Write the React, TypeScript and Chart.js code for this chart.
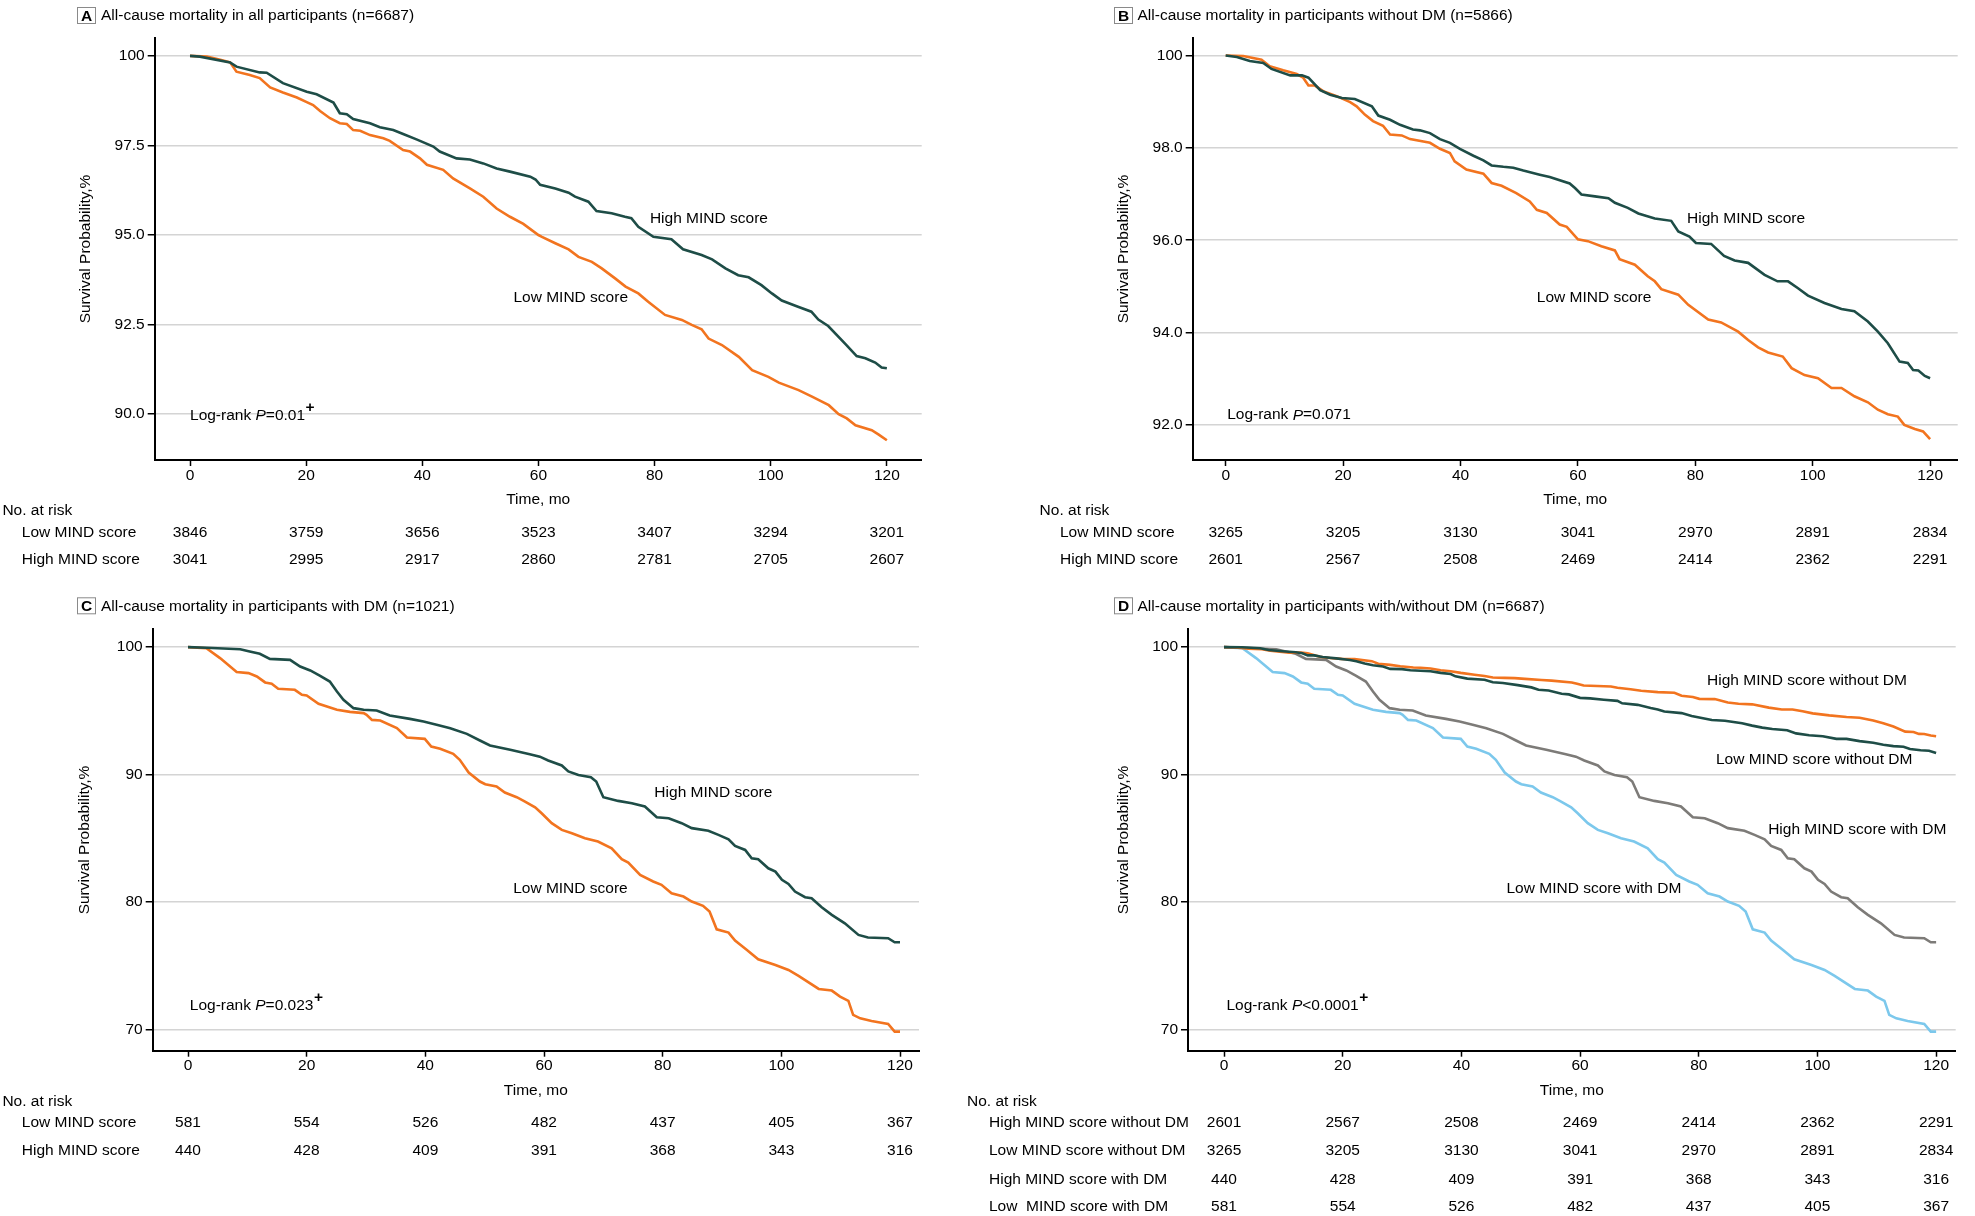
import React, { useEffect, useRef } from "react";
import { Chart, registerables } from "chart.js";

Chart.register(...registerables);

const FF = '"Liberation Sans", Arial, Helvetica, sans-serif';
const FS = 15.5;
Chart.defaults.font.family = FF;
Chart.defaults.font.size = FS;
Chart.defaults.color = "#000";

// ---------- shared ----------
const months = [0, 20, 40, 60, 80, 100, 120];

// ---------- Panel A: all participants ----------
const aHighT = [0, 1.7, 6.9, 8, 12, 13.2, 16, 20.1, 21.8, 24.7, 25.8, 27, 28.1, 31, 32.7, 35, 36.7, 39, 41.9, 43, 45.9, 48.2, 50.5, 52.8, 55.1, 58.6, 59.5, 60.3, 62.9, 65.2, 66.3, 68.6, 70, 72.6, 74.9, 76, 77.2, 79.8, 82.9, 84.9, 88.1, 89.9, 92.2, 94.4, 96.2, 98.4, 100.2, 101.9, 104.7, 107, 108.2, 109.9, 112.8, 114.8, 116.3, 118, 119.1, 120];
const aHighS = [100, 99.98, 99.82, 99.7, 99.54, 99.53, 99.24, 99.0, 98.93, 98.7, 98.4, 98.37, 98.24, 98.12, 98.01, 97.93, 97.82, 97.67, 97.47, 97.33, 97.14, 97.11, 97.0, 96.86, 96.77, 96.63, 96.55, 96.4, 96.3, 96.18, 96.07, 95.93, 95.67, 95.61, 95.51, 95.47, 95.23, 94.95, 94.88, 94.6, 94.44, 94.32, 94.07, 93.88, 93.82, 93.6, 93.37, 93.17, 93.0, 92.86, 92.64, 92.46, 91.97, 91.62, 91.56, 91.44, 91.3, 91.28];
const aLowT = [0, 2.9, 5.2, 6.9, 8, 10.3, 12, 13.8, 16, 18.4, 20.1, 21.2, 22.4, 24.1, 25.8, 27, 28.1, 29.3, 31, 33.3, 34.4, 36.7, 37.9, 39.6, 40.8, 43.6, 45.3, 48.2, 50.5, 52.8, 55.1, 57.4, 60, 60.6, 62.9, 65.2, 66.9, 69.2, 70.9, 73.2, 75, 77.2, 78.9, 81.8, 84.7, 86.4, 88.1, 89.3, 91.6, 94.5, 96.8, 99.6, 101.4, 104.8, 107.2, 110, 111.7, 113.1, 114.6, 117.4, 118.6, 120];
const aLowS = [100, 99.98, 99.89, 99.82, 99.56, 99.47, 99.38, 99.12, 98.98, 98.84, 98.71, 98.63, 98.46, 98.26, 98.12, 98.1, 97.93, 97.91, 97.79, 97.7, 97.63, 97.37, 97.33, 97.14, 96.96, 96.82, 96.58, 96.3, 96.07, 95.74, 95.51, 95.31, 95.0, 94.95, 94.77, 94.6, 94.39, 94.25, 94.07, 93.79, 93.56, 93.37, 93.14, 92.77, 92.63, 92.49, 92.37, 92.11, 91.93, 91.6, 91.23, 91.04, 90.88, 90.67, 90.48, 90.25, 90.0, 89.88, 89.69, 89.55, 89.43, 89.27];
const aRiskLow = [3846, 3759, 3656, 3523, 3407, 3294, 3201];
const aRiskHigh = [3041, 2995, 2917, 2860, 2781, 2705, 2607];
const aYTicks = [90, 92.5, 95, 97.5, 100];

// ---------- Panel B: without DM ----------
const bHighT = [0, 1.9, 4.1, 6.4, 7.8, 11, 13, 14.1, 16.1, 17.8, 19.8, 22, 24.9, 26, 28, 29.7, 31.9, 33.1, 34.8, 36.5, 38.2, 39.9, 42.2, 43.9, 45.3, 47.3, 49, 50.7, 53.5, 55.2, 58.6, 59.5, 60.6, 62.9, 65.2, 66.3, 68.5, 70.3, 73.1, 75.9, 77.1, 79, 80.1, 82.7, 84.9, 86.7, 89, 91.8, 94, 95.8, 97.5, 99.2, 102, 104.9, 107.1, 109.4, 111.1, 112.8, 114.8, 116.2, 117.1, 118, 119.1, 120];
const bHighS = [100, 99.97, 99.88, 99.84, 99.71, 99.57, 99.57, 99.52, 99.25, 99.15, 99.08, 99.06, 98.9, 98.7, 98.61, 98.5, 98.4, 98.38, 98.32, 98.19, 98.11, 97.98, 97.83, 97.73, 97.62, 97.59, 97.57, 97.51, 97.42, 97.37, 97.23, 97.13, 96.99, 96.95, 96.91, 96.81, 96.7, 96.58, 96.47, 96.42, 96.19, 96.08, 95.94, 95.92, 95.66, 95.56, 95.51, 95.25, 95.11, 95.11, 94.96, 94.8, 94.64, 94.51, 94.46, 94.24, 94.02, 93.77, 93.37, 93.34, 93.19, 93.18, 93.06, 93.01];
const bLowT = [0, 3, 6.1, 7.5, 9.8, 12.1, 13.2, 14.1, 15.2, 16.6, 18.9, 21.2, 22.3, 23.7, 25.1, 26.8, 28, 30, 31.4, 34.8, 36.5, 38.2, 39, 41, 43.9, 45.3, 47, 49.5, 51.8, 53, 54.7, 56.9, 58.1, 60, 61.7, 64, 66.3, 67.1, 69.7, 71.9, 73.1, 74.2, 77.1, 78.8, 82.2, 84.4, 87.3, 89, 90.7, 92.4, 94.9, 96.4, 98.6, 100.9, 103.2, 104.9, 107.1, 109.4, 111.1, 112.8, 114.5, 115.6, 117.4, 118.8, 120];
const bLowS = [100, 99.99, 99.91, 99.77, 99.68, 99.6, 99.52, 99.35, 99.35, 99.23, 99.12, 98.99, 98.9, 98.72, 98.58, 98.48, 98.29, 98.27, 98.19, 98.11, 97.98, 97.89, 97.71, 97.53, 97.44, 97.24, 97.18, 97.02, 96.84, 96.66, 96.59, 96.34, 96.29, 96.02, 95.98, 95.87, 95.78, 95.59, 95.47, 95.22, 95.11, 94.94, 94.82, 94.6, 94.28, 94.22, 94.02, 93.84, 93.68, 93.57, 93.48, 93.23, 93.08, 93.01, 92.8, 92.8, 92.62, 92.49, 92.33, 92.23, 92.18, 92.0, 91.91, 91.86, 91.69];
const bRiskLow = [3265, 3205, 3130, 3041, 2970, 2891, 2834];
const bRiskHigh = [2601, 2567, 2508, 2469, 2414, 2362, 2291];
const bYTicks = [92, 94, 96, 98, 100];

// ---------- Panel C: with DM ----------
const cHighT = [0, 3.1, 8.8, 10.4, 12.1, 13.8, 17.2, 18.9, 20.6, 22.2, 23.9, 25.1, 26.2, 27.9, 29.6, 31.8, 34, 37.4, 39.7, 41.9, 44.2, 47, 49.2, 50.9, 54.3, 57.6, 59.3, 60.7, 63, 64.1, 65.8, 67.9, 68.8, 70, 72.5, 74.8, 77, 79, 81, 83.2, 84.9, 87.7, 89.4, 91.1, 92.2, 93.9, 95, 96.1, 97.8, 99, 100.1, 101.2, 102.3, 104, 105.1, 106.8, 108.5, 110.7, 113, 114.6, 118, 119.1, 120];
const cHighS = [100, 99.95, 99.84, 99.66, 99.48, 99.08, 99.0, 98.48, 98.17, 97.77, 97.3, 96.51, 95.86, 95.21, 95.08, 95.03, 94.63, 94.37, 94.16, 93.9, 93.64, 93.19, 92.67, 92.28, 91.94, 91.6, 91.4, 91.1, 90.71, 90.24, 89.97, 89.79, 89.45, 88.22, 87.93, 87.75, 87.49, 86.65, 86.57, 86.18, 85.79, 85.58, 85.26, 84.92, 84.4, 84.08, 83.43, 83.35, 82.64, 82.38, 81.73, 81.41, 80.81, 80.37, 80.29, 79.58, 78.98, 78.32, 77.41, 77.2, 77.15, 76.83, 76.83];
const cLowT = [0, 3.1, 5.4, 8.2, 10.2, 11.6, 13, 14.1, 15.2, 18, 19.2, 20, 22, 25.1, 27.3, 29.6, 30.1, 31, 32.4, 35.2, 36.9, 39.9, 41, 42.5, 44.7, 45.8, 47.3, 49.2, 50.1, 52, 53.4, 55.4, 56.8, 58.5, 59.6, 61.3, 63, 64.7, 66.9, 69.1, 71.4, 73.1, 74.2, 76.2, 78.4, 79.8, 81.5, 83.5, 84.9, 86.8, 87.9, 89.1, 91.1, 92.2, 94.2, 96.1, 99, 101.2, 102.9, 106.3, 108.5, 109.9, 111.3, 112.1, 113.3, 115.2, 118, 119.1, 120];
const cLowS = [100, 99.92, 99.14, 98.04, 97.96, 97.7, 97.23, 97.12, 96.73, 96.65, 96.26, 96.2, 95.55, 95.08, 94.92, 94.82, 94.69, 94.29, 94.24, 93.64, 92.91, 92.8, 92.2, 92.02, 91.62, 91.15, 90.16, 89.45, 89.24, 89.06, 88.59, 88.22, 87.88, 87.43, 86.96, 86.18, 85.65, 85.39, 85.0, 84.74, 84.21, 83.35, 83.09, 82.12, 81.6, 81.34, 80.68, 80.42, 80.03, 79.69, 79.24, 77.85, 77.59, 76.96, 76.23, 75.5, 75.05, 74.66, 74.19, 73.17, 73.04, 72.57, 72.23, 71.13, 70.86, 70.65, 70.42, 69.82, 69.82];
const cRiskLow = [581, 554, 526, 482, 437, 405, 367];
const cRiskHigh = [440, 428, 409, 391, 368, 343, 316];
const cYTicks = [70, 80, 90, 100];

// ---------- colours ----------
const GREEN = "#1e4d47";
const ORANGE = "#f2741f";
const GRAY = "#7d7b78";
const BLUE = "#7cc8ec";

const toXY = (t: number[], s: number[]) => t.map((x, i) => ({ x, y: s[i] }));

const X_H = 50;

type Panel = any;

const panels: Panel[] = [
  {
    left: 0, top: 0, w: 960, h: 590,
    area: { l: 154.7, r: 921.7, t: 38, b: 460 },
    xMin: -6.08, xMax: 126.0, yMin: 88.72, yMax: 100.5,
    yTicks: aYTicks, yFmt: (v: number) => (v === 100 ? "100" : v.toFixed(1)),
    yTitleX: 86,
    series: [
      { t: aHighT, s: aHighS, color: GREEN },
      { t: aLowT, s: aLowS, color: ORANGE },
    ],
    decor: {
      letter: "A", box: { x: 77, y: 7, w: 18, h: 16 }, titleX: 101,
      title: "All-cause mortality in all participants (n=6687)",
      labels: [
        { t: 79.2, v: 95.45, text: "High MIND score" },
        { t: 55.7, v: 93.25, text: "Low MIND score" },
      ],
      logrank: { t: 0, v: 89.97, op: "=0.01", plus: true },
      headerX: 2.4, labelX: 21.8, headerOff: 50.5, rowOffs: [72.5, 100],
      rows: [
        { label: "Low MIND score", values: aRiskLow },
        { label: "High MIND score", values: aRiskHigh },
      ],
    },
  },
  {
    left: 960, top: 0, w: 1015, h: 590,
    area: { l: 232.7, r: 997.7, t: 38, b: 460 },
    xMin: -5.62, xMax: 124.7, yMin: 91.24, yMax: 100.38,
    yTicks: bYTicks, yFmt: (v: number) => (v === 100 ? "100" : v.toFixed(1)),
    yTitleX: 163.3,
    series: [
      { t: bHighT, s: bHighS, color: GREEN },
      { t: bLowT, s: bLowS, color: ORANGE },
    ],
    decor: {
      letter: "B", box: { x: 154, y: 7, w: 18, h: 16 }, titleX: 177.5,
      title: "All-cause mortality in participants without DM (n=5866)",
      labels: [
        { t: 78.6, v: 96.46, text: "High MIND score" },
        { t: 53.0, v: 94.76, text: "Low MIND score" },
      ],
      logrank: { t: 0.25, v: 92.21, op: "=0.071", plus: false },
      headerX: 79.6, labelX: 100, headerOff: 50.5, rowOffs: [72.5, 100],
      rows: [
        { label: "Low MIND score", values: bRiskLow },
        { label: "High MIND score", values: bRiskHigh },
      ],
    },
  },
  {
    left: 0, top: 590, w: 960, h: 626,
    area: { l: 152.7, r: 919, t: 39.3, b: 460.7 },
    xMin: -5.95, xMax: 123.2, yMin: 68.32, yMax: 101.4,
    yTicks: cYTicks, yFmt: (v: number) => String(v),
    yTitleX: 85,
    series: [
      { t: cHighT, s: cHighS, color: GREEN },
      { t: cLowT, s: cLowS, color: ORANGE },
    ],
    decor: {
      letter: "C", box: { x: 77, y: 7.3, w: 18, h: 16 }, titleX: 101,
      title: "All-cause mortality in participants with DM (n=1021)",
      labels: [
        { t: 78.6, v: 88.61, text: "High MIND score" },
        { t: 54.8, v: 81.07, text: "Low MIND score" },
      ],
      logrank: { t: 0.3, v: 71.82, op: "=0.023", plus: true },
      headerX: 2.4, labelX: 21.8, headerOff: 51, rowOffs: [72.5, 100.5],
      rows: [
        { label: "Low MIND score", values: cRiskLow },
        { label: "High MIND score", values: cRiskHigh },
      ],
    },
  },
  {
    left: 960, top: 590, w: 1015, h: 626,
    area: { l: 228, r: 995.7, t: 39.3, b: 460.7 },
    xMin: -6.07, xMax: 123.3, yMin: 68.32, yMax: 101.4,
    yTicks: cYTicks, yFmt: (v: number) => String(v),
    yTitleX: 163.3,
    series: [
      { t: bLowT, s: bLowS, color: GREEN },
      { t: bHighT, s: bHighS, color: ORANGE },
      { t: cHighT, s: cHighS, color: GRAY },
      { t: cLowT, s: cLowS, color: BLUE },
    ],
    decor: {
      letter: "D", box: { x: 154, y: 7.3, w: 18, h: 16 }, titleX: 177.5,
      title: "All-cause mortality in participants with/without DM (n=6687)",
      labels: [
        { t: 81.4, v: 97.38, text: "High MIND score without DM" },
        { t: 82.9, v: 91.2, text: "Low MIND score without DM" },
        { t: 91.7, v: 85.7, text: "High MIND score with DM" },
        { t: 47.6, v: 81.07, text: "Low MIND score with DM" },
      ],
      logrank: { t: 0.4, v: 71.85, op: "<0.0001", plus: true },
      headerX: 7, labelX: 29, headerOff: 51, rowOffs: [72.3, 100.3, 128.8, 156],
      rows: [
        { label: "High MIND score without DM", values: bRiskHigh },
        { label: "Low MIND score without DM", values: bRiskLow },
        { label: "High MIND score with DM", values: cRiskHigh },
        { label: "Low  MIND score with DM", values: cRiskLow },
      ],
    },
  },
];

const decorPlugin = {
  id: "decor",
  afterDraw(chart: any) {
    const o = chart.options.plugins.decor;
    if (!o) return;
    const ctx = chart.ctx as CanvasRenderingContext2D;
    const xs = chart.scales.x;
    const ys = chart.scales.y;
    const area = chart.chartArea;
    ctx.save();
    ctx.fillStyle = "#000";
    ctx.textBaseline = "middle";

    // panel title
    ctx.strokeStyle = "#8a8a8a";
    ctx.lineWidth = 1;
    ctx.strokeRect(o.box.x + 0.5, o.box.y + 0.5, o.box.w, o.box.h);
    ctx.font = `bold ${FS}px ${FF}`;
    ctx.textAlign = "center";
    ctx.fillText(o.letter, o.box.x + o.box.w / 2 + 0.5, o.box.y + o.box.h / 2 + 1.5);
    ctx.font = `${FS}px ${FF}`;
    ctx.textAlign = "left";
    ctx.fillText(o.title, o.titleX, o.box.y + o.box.h / 2 + 1);

    // curve labels
    for (const a of o.labels) {
      ctx.fillText(a.text, xs.getPixelForValue(a.t), ys.getPixelForValue(a.v));
    }

    // log-rank
    const lr = o.logrank;
    let x = xs.getPixelForValue(lr.t);
    const y = ys.getPixelForValue(lr.v);
    const part1 = "Log-rank ";
    ctx.fillText(part1, x, y);
    x += ctx.measureText(part1).width;
    ctx.font = `italic ${FS}px ${FF}`;
    ctx.fillText("P", x, y);
    x += ctx.measureText("P").width;
    ctx.font = `${FS}px ${FF}`;
    ctx.fillText(lr.op, x, y);
    x += ctx.measureText(lr.op).width;
    if (lr.plus) {
      ctx.font = `bold ${FS}px ${FF}`;
      ctx.fillText("+", x + 0.5, y - 8);
      ctx.font = `${FS}px ${FF}`;
    }

    // risk table
    ctx.fillText("No. at risk", o.headerX, area.bottom + o.headerOff);
    o.rows.forEach((r: any, i: number) => {
      const ry = area.bottom + o.rowOffs[i];
      ctx.textAlign = "left";
      ctx.fillText(r.label, o.labelX, ry);
      ctx.textAlign = "center";
      r.values.forEach((n: number, j: number) => {
        ctx.fillText(String(n), xs.getPixelForValue(months[j]), ry);
      });
    });
    ctx.restore();
  },
};

function buildConfig(p: Panel): any {
  return {
    type: "line",
    data: {
      datasets: p.series.map((s: any) => ({
        data: toXY(s.t, s.s),
        borderColor: s.color,
        backgroundColor: s.color,
        borderWidth: 2.6,
        pointRadius: 0,
        fill: false,
        tension: 0,
      })),
    },
    options: {
      responsive: false,
      animation: false,
      events: [],
      layout: {
        padding: {
          left: 0,
          top: p.area.t,
          right: p.w - p.area.r,
          bottom: p.h - p.area.b - X_H,
        },
      },
      plugins: {
        legend: { display: false },
        tooltip: { enabled: false },
        title: { display: false },
        decor: p.decor,
      },
      scales: {
        x: {
          type: "linear",
          min: p.xMin,
          max: p.xMax,
          afterBuildTicks: (s: any) => {
            s.ticks = months.map((v) => ({ value: v }));
          },
          afterFit: (s: any) => {
            s.height = X_H;
          },
          grid: {
            drawOnChartArea: false,
            drawTicks: true,
            tickLength: 6,
            tickColor: "#000",
            tickWidth: 1.5,
          },
          border: { display: true, color: "#000", width: 2 },
          ticks: {
            padding: 0,
            color: "#000",
            font: { size: FS },
            maxRotation: 0,
            autoSkip: false,
            callback: (v: number) => String(v),
          },
          title: {
            display: true,
            text: "Time, mo",
            color: "#000",
            font: { size: FS },
            padding: { top: 0, bottom: 0.7 },
          },
        },
        y: {
          type: "linear",
          min: p.yMin,
          max: p.yMax,
          afterBuildTicks: (s: any) => {
            s.ticks = p.yTicks.map((v: number) => ({ value: v }));
          },
          afterFit: (s: any) => {
            s.width = p.area.l;
          },
          grid: {
            color: "#d4d4d4",
            lineWidth: 1.5,
            drawTicks: true,
            tickLength: 7,
            tickColor: "#000",
            tickWidth: 1.5,
          },
          border: { display: true, color: "#000", width: 2 },
          ticks: {
            padding: 3,
            color: "#000",
            font: { size: FS },
            autoSkip: false,
            callback: (v: number) => p.yFmt(v),
          },
          title: {
            display: true,
            text: "Survival Probability,%",
            color: "#000",
            font: { size: FS },
            padding: { top: p.yTitleX - (FS * 1.2) / 2, bottom: 0 },
          },
        },
      },
    },
    plugins: [decorPlugin],
  };
}

export default function App() {
  const refs = useRef<(HTMLCanvasElement | null)[]>([]);
  useEffect(() => {
    const charts = panels.map((p, i) => new Chart(refs.current[i] as HTMLCanvasElement, buildConfig(p)));
    return () => charts.forEach((c) => c.destroy());
  }, []);
  return (
    <div style={{ position: "absolute", left: 0, top: 0, width: 1975, height: 1216, background: "#fff" }}>
      {panels.map((p, i) => (
        <div key={i} style={{ position: "absolute", left: p.left, top: p.top, width: p.w, height: p.h }}>
          <canvas
            ref={(el) => {
              refs.current[i] = el;
            }}
            width={p.w}
            height={p.h}
            style={{ width: p.w, height: p.h, display: "block" }}
          />
        </div>
      ))}
    </div>
  );
}
